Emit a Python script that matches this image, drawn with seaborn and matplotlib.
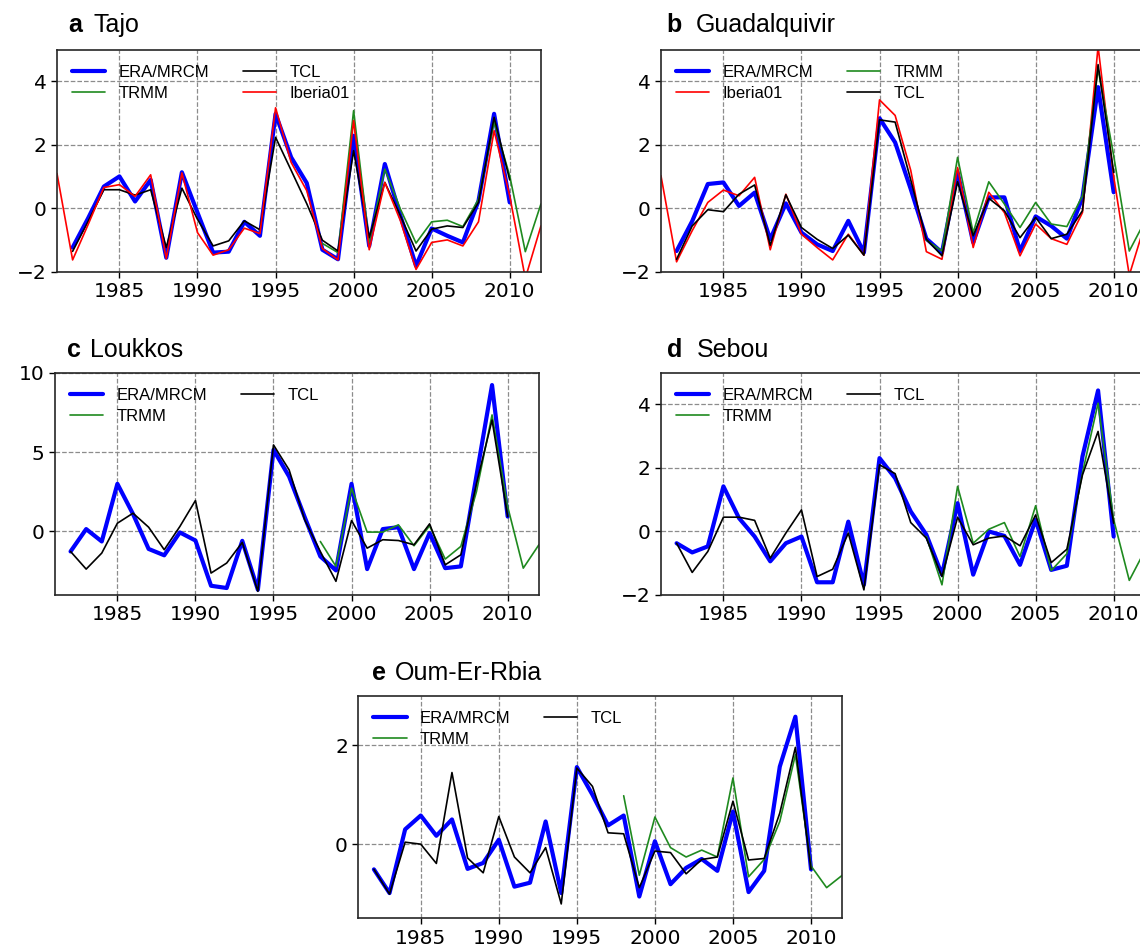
import matplotlib
matplotlib.use("Agg")
import matplotlib.pyplot as plt
import numpy as np
import seaborn as sns

# year ranges of the four products
yrs_model = list(range(1982, 2011))    # ERA/MRCM and TCL
yrs_trmm = list(range(1998, 2013))
yrs_iberia = list(range(1981, 2013))

# a Tajo
era_a = [-1.23, -0.3, 0.69, 1.01, 0.22, 0.9, -1.55, 1.14, -0.13, -1.39, -1.36, -0.42, -0.86, 2.98, 1.61, 0.8, -1.3, -1.6,
         2.29, -1.18, 1.4, -0.23, -1.81, -0.63, -0.86, -1.07, 0.24, 2.98, 0.19]
tcl_a = [-1.35, -0.4, 0.59, 0.59, 0.42, 0.59, -1.23, 0.64, -0.34, -1.18, -1.02, -0.39, -0.67, 2.24, 1.2, 0.15, -1.0, -1.34,
         1.82, -0.92, 0.82, -0.23, -1.34, -0.65, -0.55, -0.6, 0.19, 2.87, 0.9]
trmm_a = [-1.1, -1.39, 3.08, -1.07, 1.24, -0.02, -1.09, -0.42, -0.37, -0.57, 0.29, 2.72, 1.03, -1.36, 0.14]
iberia_a = [1.1, -1.62, -0.5, 0.66, 0.75, 0.38, 1.06, -1.58, 1.12, -0.76, -1.47, -1.3, -0.62, -0.79, 3.17, 1.45, 0.56,
            -1.26, -1.62, 2.77, -1.3, 0.82, -0.39, -1.92, -1.07, -0.99, -1.18, -0.42, 2.45, 0.4, -2.2, -0.55]

# b Guadalquivir
era_b = [-1.34, -0.4, 0.77, 0.82, 0.08, 0.5, -0.97, 0.16, -0.76, -1.13, -1.34, -0.39, -1.39, 2.84, 2.08, 0.61, -0.95, -1.39,
         1.14, -1.07, 0.35, 0.35, -1.34, -0.25, -0.55, -0.95, 0.35, 3.82, 0.51]
tcl_b = [-1.6, -0.55, -0.04, -0.1, 0.45, 0.74, -1.16, 0.43, -0.6, -0.97, -1.26, -0.84, -1.47, 2.79, 2.72, 0.9, -0.97, -1.49,
         0.84, -0.86, 0.32, -0.07, -0.92, -0.28, -0.95, -0.81, -0.07, 4.53, 1.14]
trmm_b = [-1.0, -1.34, 1.61, -0.76, 0.84, 0.14, -0.6, 0.19, -0.49, -0.57, 0.4, 4.4, 1.66, -1.34, -0.4]
iberia_b = [1.03, -1.68, -0.7, 0.19, 0.58, 0.4, 0.98, -1.3, 0.45, -0.81, -1.23, -1.62, -0.81, -1.47, 3.42, 2.93, 1.2,
            -1.36, -1.6, 1.29, -1.23, 0.51, -0.13, -1.49, -0.49, -0.95, -1.13, -0.13, 5.1, 1.0, -2.1, -0.5]

# c Loukkos
era_c = [-1.26, 0.15, -0.63, 3.0, 1.1, -1.1, -1.5, -0.06, -0.57, -3.42, -3.56, -0.59, -3.67, 5.14, 3.46, 0.9, -1.57, -2.45,
         3.0, -2.37, 0.15, 0.27, -2.37, -0.1, -2.31, -2.2, 3.5, 9.22, 0.94]
tcl_c = [-1.26, -2.37, -1.36, 0.52, 1.15, 0.27, -1.15, 0.31, 1.95, -2.62, -1.99, -0.69, -3.77, 5.45, 3.88, 0.73, -1.26, -3.14,
         0.69, -1.05, -0.52, -0.57, -0.84, 0.48, -2.1, -1.47, 3.0, 7.02, 0.94]
trmm_c = [-0.63, -2.2, 2.73, -0.04, -0.04, 0.42, -0.9, 0.36, -1.74, -0.94, 2.5, 7.34, 1.57, -2.31, -0.84]

# d Sebou
era_d = [-0.37, -0.66, -0.47, 1.42, 0.42, -0.16, -0.94, -0.37, -0.16, -1.6, -1.6, 0.31, -1.68, 2.31, 1.68, 0.63, -0.1, -1.36,
         0.89, -1.36, 0.0, -0.14, -1.05, 0.37, -1.21, -1.08, 2.36, 4.44, -0.16]
tcl_d = [-0.37, -1.29, -0.63, 0.45, 0.45, 0.35, -0.84, -0.05, 0.68, -1.42, -1.19, -0.05, -1.84, 2.1, 1.82, 0.28, -0.21, -1.42,
         0.45, -0.42, -0.21, -0.14, -0.45, 0.52, -0.98, -0.56, 1.78, 3.15, 0.26]
trmm_d = [-0.16, -1.68, 1.42, -0.37, 0.07, 0.28, -0.79, 0.81, -1.23, -0.7, 1.84, 4.04, 0.37, -1.54, -0.6]

# e Oum-Er-Rbia
era_e = [-0.51, -0.99, 0.3, 0.58, 0.17, 0.5, -0.5, -0.38, 0.09, -0.86, -0.78, 0.46, -0.99, 1.56, 1.0, 0.38, 0.58, -1.06,
         0.06, -0.81, -0.48, -0.3, -0.54, 0.66, -0.97, -0.54, 1.57, 2.58, -0.51]
tcl_e = [-0.51, -1.01, 0.04, 0.0, -0.39, 1.45, -0.28, -0.58, 0.56, -0.26, -0.58, -0.07, -1.21, 1.54, 1.17, 0.23, 0.21, -0.88,
         -0.14, -0.17, -0.6, -0.31, -0.26, 0.87, -0.32, -0.29, 0.63, 1.96, -0.51]
trmm_e = [0.98, -0.63, 0.55, -0.07, -0.26, -0.12, -0.26, 1.34, -0.66, -0.31, 0.46, 1.81, -0.44, -0.88, -0.63]

xticks = [1985, 1990, 1995, 2000, 2005, 2010]

sns.set_style("whitegrid", {"grid.linestyle": "--", "grid.color": "0.55",
                            "axes.edgecolor": "0.15"})
plt.rcParams["font.family"] = ["DejaVu Sans"]
plt.rcParams["text.color"] = "black"

TXT = "Liberation Sans"


def era(ax, y):
    sns.lineplot(x=yrs_model, y=y, ax=ax, color="#0000ff", linewidth=3.0, label="ERA/MRCM")


def tcl(ax, y):
    sns.lineplot(x=yrs_model, y=y, ax=ax, color="black", linewidth=1.2, label="TCL")


def trmm(ax, y):
    sns.lineplot(x=yrs_trmm, y=y, ax=ax, color="#1f8a1f", linewidth=1.2, label="TRMM")


def iberia(ax, y):
    sns.lineplot(x=yrs_iberia, y=y, ax=ax, color="red", linewidth=1.2, label="Iberia01")


def style(ax, ylim, yticks):
    ax.set_xlim(1981, 2012)
    ax.set_ylim(*ylim)
    ax.set_xticks(xticks)
    ax.set_yticks(yticks)
    ax.grid(True, linestyle="--", color="0.55", linewidth=0.9)
    ax.tick_params(bottom=True, left=True, direction="out", length=4, width=1,
                   labelsize=14.5, colors="black")
    for s in ax.spines.values():
        s.set_linewidth(1.2)
        s.set_color("0.15")
    ax.set_xlabel("")
    ax.set_ylabel("")
    ax.legend(ncol=2, loc="upper left", frameon=False, handlelength=2.0,
              columnspacing=2.0, labelspacing=0.35, labelcolor="black",
              prop={"family": TXT, "size": 12})


def title(ax, letter, name, dx, dy, gap):
    t = ax.annotate(letter, xy=(0, 1), xycoords="axes fraction", xytext=(dx, dy),
                    textcoords="offset points", fontsize=18, fontweight="bold",
                    family=TXT, ha="left", va="bottom", color="black")
    ax.annotate(name, xy=(1, 0), xycoords=t, xytext=(gap, 0),
                textcoords="offset points", fontsize=18, family=TXT,
                ha="left", va="bottom", color="black")


fig = plt.figure(figsize=(11.4, 9.5), dpi=100)
W, H = 0.4245, 0.234
ax_a = fig.add_axes([0.050, 0.7137, W, H])
ax_b = fig.add_axes([0.5798, 0.7137, W, H])
ax_c = fig.add_axes([0.0482, 0.3737, W, H])
ax_d = fig.add_axes([0.5798, 0.3737, W, H])
ax_e = fig.add_axes([0.3143, 0.0334, W, H])

era(ax_a, era_a)
trmm(ax_a, trmm_a)
tcl(ax_a, tcl_a)
iberia(ax_a, iberia_a)
style(ax_a, (-2, 5), [-2, 0, 2, 4])
title(ax_a, "a", "Tajo", 8, 9, 8)

era(ax_b, era_b)
iberia(ax_b, iberia_b)
trmm(ax_b, trmm_b)
tcl(ax_b, tcl_b)
style(ax_b, (-2, 5), [-2, 0, 2, 4])
title(ax_b, "b", "Guadalquivir", 4, 9, 10)

for ax, e, tr, tc, ylim, yt in [
    (ax_c, era_c, trmm_c, tcl_c, (-4, 10), [0, 5, 10]),
    (ax_d, era_d, trmm_d, tcl_d, (-2, 5), [-2, 0, 2, 4]),
    (ax_e, era_e, trmm_e, tcl_e, (-1.5, 3), [0, 2]),
]:
    era(ax, e)
    trmm(ax, tr)
    tcl(ax, tc)
    style(ax, ylim, yt)

title(ax_c, "c", "Loukkos", 9, 8, 6)
title(ax_d, "d", "Sebou", 4, 8, 11)
title(ax_e, "e", "Oum-Er-Rbia", 10, 8, 6)

fig.savefig("out.png", dpi=100)
